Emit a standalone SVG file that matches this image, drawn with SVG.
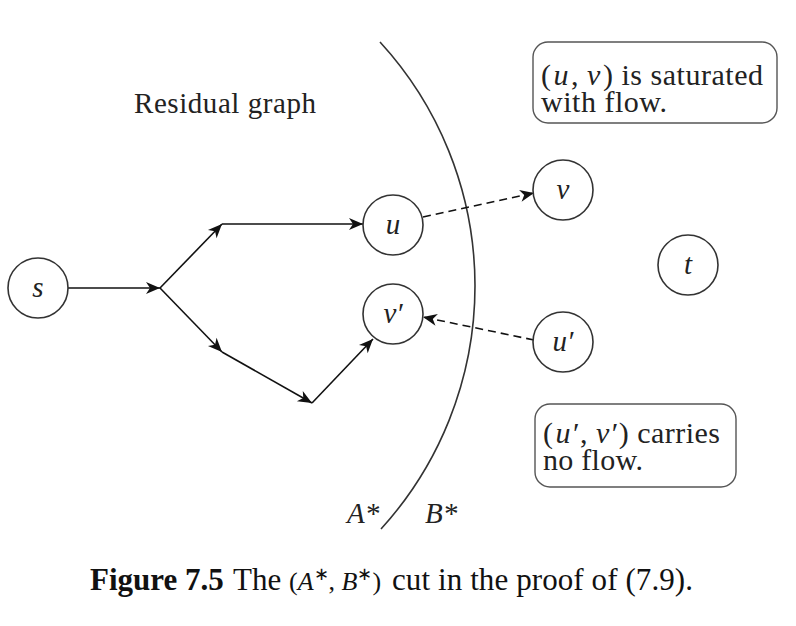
<svg xmlns="http://www.w3.org/2000/svg" width="796" height="626" viewBox="0 0 796 626">
<style>
.node circle{fill:#fff;stroke:#333;stroke-width:1.6}
.lbl{font-family:"Liberation Serif","Times New Roman",serif;font-style:italic;font-size:29px;fill:#222;text-anchor:middle}
.txt{font-family:"Liberation Serif","Times New Roman",serif;font-size:29px;fill:#222}
.bt{font-size:30px}
.it{font-style:italic}
.edge{fill:none;stroke:#111;stroke-width:1.6}
.dash{stroke-dasharray:8,5}
.box{fill:#fff;stroke:#555;stroke-width:1.4}
.cap{font-family:"Liberation Serif","Times New Roman",serif;font-size:31px;fill:#111}
</style>
<defs>
<marker id="ah" viewBox="-15 -7 16 14" refX="0" refY="0" markerWidth="16" markerHeight="14" markerUnits="userSpaceOnUse" orient="auto">
<path d="M0,0 L-14,-6 L-10,0 L-14,6 Z" fill="#111"/>
</marker>
</defs>

<text class="txt" x="134" y="113" textLength="182">Residual graph</text>

<path d="M380,42 A361,361 0 0,1 381,529" fill="none" stroke="#333" stroke-width="1.6"/>

<g id="connectors">
<line class="edge" x1="68" y1="288" x2="160" y2="288" marker-end="url(#ah)"/>
<line class="edge" x1="160" y1="288" x2="222" y2="224" marker-end="url(#ah)"/>
<line class="edge" x1="222" y1="224" x2="363" y2="224" marker-end="url(#ah)"/>
<line class="edge" x1="160" y1="288" x2="222" y2="352" marker-end="url(#ah)"/>
<line class="edge" x1="222" y1="352" x2="312" y2="403" marker-end="url(#ah)"/>
<line class="edge" x1="312" y1="403" x2="373" y2="339" marker-end="url(#ah)"/>
<line class="edge dash" x1="423" y1="217" x2="534" y2="193" marker-end="url(#ah)"/>
<line class="edge dash" x1="534" y1="340" x2="423" y2="317" marker-end="url(#ah)"/>
</g>

<g id="node-s" class="node"><circle cx="38" cy="288" r="30"/><text class="lbl" x="38" y="297">s</text></g>
<g id="node-u" class="node"><circle cx="393" cy="225" r="30"/><text class="lbl" x="393" y="234">u</text></g>
<g id="node-vp" class="node"><circle cx="393" cy="314" r="30"/><text class="lbl" x="393" y="323">v′</text></g>
<g id="node-v" class="node"><circle cx="563" cy="190" r="30"/><text class="lbl" x="563" y="199">v</text></g>
<g id="node-up" class="node"><circle cx="563" cy="342" r="30"/><text class="lbl" x="563" y="351">u′</text></g>
<g id="node-t" class="node"><circle cx="688" cy="265" r="30"/><text class="lbl" x="688" y="274">t</text></g>

<g id="note-saturated">
<rect class="box" x="533" y="42" width="244" height="81" rx="15"/>
<text class="txt bt" x="541" y="85" textLength="222">(<tspan class="it" dx="2">u</tspan><tspan dx="2">, </tspan><tspan class="it">v</tspan><tspan dx="2">) is saturated</tspan></text>
<text class="txt bt" x="541" y="112" textLength="126">with flow.</text>
</g>

<g id="note-noflow">
<rect class="box" x="535" y="404" width="201" height="83" rx="15"/>
<text class="txt bt" x="543" y="443" textLength="177">(<tspan class="it" dx="2">u</tspan><tspan dx="2">′, </tspan><tspan class="it">v</tspan><tspan dx="2">′) carries</tspan></text>
<text class="txt bt" x="543" y="470" textLength="100">no flow.</text>
</g>

<text class="txt it" x="347" y="523">A*</text>
<text class="txt it" x="425" y="523">B*</text>

<text class="cap" y="590"><tspan x="90" font-weight="bold">Figure 7.5</tspan><tspan x="233">The</tspan><tspan x="289" font-size="26">(<tspan font-style="italic">A</tspan><tspan font-size="18" dy="-10">∗</tspan><tspan dy="10">, </tspan><tspan font-style="italic">B</tspan><tspan font-size="18" dy="-10">∗</tspan><tspan dy="10">)</tspan></tspan></text>
<text class="cap" x="392" y="590" textLength="301">cut in the proof of (7.9).</text>
</svg>
